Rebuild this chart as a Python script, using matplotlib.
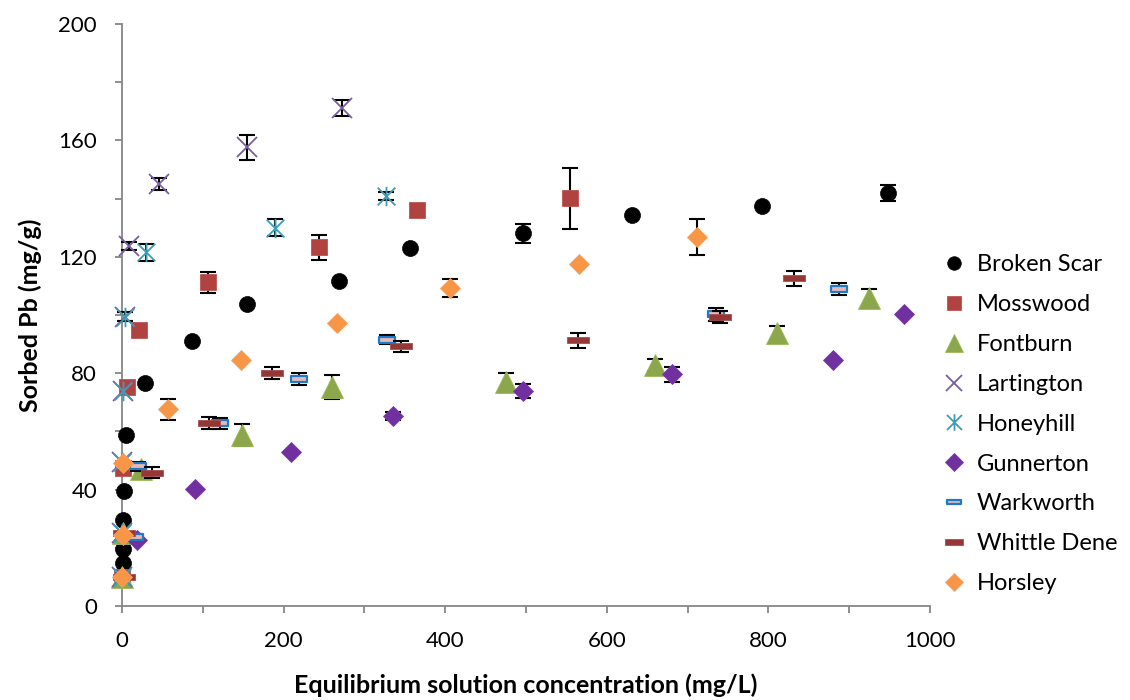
import numpy as np
import matplotlib
matplotlib.use("Agg")
import matplotlib.pyplot as plt
from matplotlib.path import Path
from matplotlib.ticker import MultipleLocator

plt.rcParams['font.family'] = ['Lato', 'DejaVu Sans']

# ---- data (x: mg/L, y: mg/g, e: half error bar) ----
broken_x = [1, 1, 1.5, 2, 5.5, 28.5, 87, 154.5, 268.5, 356.5, 496.5, 631.5, 791.5, 948.5]
broken_y = [14.7, 19.8, 29.5, 39.4, 58.9, 76.5, 91, 103.8, 111.7, 122.9, 128, 134.4, 137.5, 142]
broken_e = [0, 0, 0, 0, 0, 0, 0, 0, 0, 0, 3.4, 0, 0, 2.8]

moss_x = [0.5, 1, 6.6, 20.5, 107, 243.3, 364.7, 554.3]
moss_y = [10, 47.3, 75.2, 94.8, 111.2, 123.3, 136.1, 140.1]
moss_e = [0, 0, 0, 0, 3.6, 4.3, 0, 10.5]

font_x = [0.5, 1, 24, 148.3, 259.8, 475, 659.6, 810.4, 924.8]
font_y = [10, 25, 47, 58.8, 75.4, 77.1, 82.8, 93.7, 105.7]
font_e = [0, 0, 0, 3.7, 4.1, 2.9, 2, 2.5, 3.1]

lart_x = [0.5, 0.5, 0.5, 1.2, 3.3, 8.3, 46.3, 154.5, 272.2]
lart_y = [10, 25, 49.6, 74, 99.4, 123.8, 144.9, 157.6, 171.2]
lart_e = [0, 0, 0, 0, 1.5, 1.4, 2.1, 4.3, 2.8]

honey_x = [0.5, 0.5, 0.5, 1.2, 3.3, 29.7, 188.7, 327]
honey_y = [10, 25, 49.6, 74, 99.4, 121.5, 130, 141]
honey_e = [0, 0, 0, 0, 1.5, 2.9, 2.9, 1.4]

gunn_x = [18.6, 90.5, 209.4, 335.4, 496, 681, 880.2, 967.8]
gunn_y = [22.9, 40.2, 52.8, 65.3, 73.9, 79.6, 84.6, 100.2]
gunn_e = [0, 0, 0, 1.5, 2.5, 2.7, 0, 0]

wark_x = [15.7, 19.8, 121.4, 218.5, 328, 734.8, 887]
wark_y = [23.8, 48.1, 62.8, 78, 91.5, 100.2, 108.9]
wark_e = [0, 1.5, 2, 2, 1.5, 2.1, 2.0]

whit_x = [2, 2, 36.8, 108.2, 186.2, 345.3, 563.8, 739.8, 831.9]
whit_y = [10, 25, 45.9, 63, 80, 89.2, 91.3, 99.3, 112.6]
whit_e = [0, 0, 2, 2.1, 2.1, 2, 2.6, 2, 2.5]

hors_x = [0.5, 1.5, 1, 57.4, 147, 266.4, 406.4, 565, 711.3]
hors_y = [10, 24.4, 49.2, 67.6, 84.6, 97.2, 109.2, 117.5, 126.7]
hors_e = [0, 0, 0, 3.7, 0, 0, 3.1, 0, 6.2]

names = ['Broken Scar', 'Mosswood', 'Fontburn', 'Lartington', 'Honeyhill',
         'Gunnerton', 'Warkworth', 'Whittle Dene', 'Horsley']

# ---- custom markers ----
asterisk = Path([(-1, -1), (1, 1), (-1, 1), (1, -1), (0, -1.1), (0, 1.1)],
                [Path.MOVETO, Path.LINETO, Path.MOVETO, Path.LINETO, Path.MOVETO, Path.LINETO])
dash = Path([(-1, -0.36), (1, -0.36), (1, 0.36), (-1, 0.36), (-1, -0.36)], closed=True)
long_dash = Path([(-1, -0.28), (1, -0.28), (1, 0.28), (-1, 0.28), (-1, -0.28)], closed=True)

styles = [
    dict(marker='o', ms=11.5, mfc='black', mec='black', mew=0.5),
    dict(marker='s', ms=11.5, mfc='#B0433F', mec='#BA5450', mew=0.6),
    dict(marker='^', ms=16, mfc='#8BA64B', mec='#9BBB59', mew=0.6),
    dict(marker='x', ms=14, mfc='none', mec='#7A5FA0', mew=1.3),
    dict(marker=asterisk, ms=14, mfc='none', mec='#3C9DB8', mew=1.3),
    dict(marker='D', ms=10.5, mfc='#7030A0', mec='#7A3AAA', mew=0.6),
    dict(marker=dash, ms=11.5, mfc='#E6B9B8', mec='#1E7AC8', mew=1.6),
    dict(marker=long_dash, ms=16, mfc='#953735', mec='#A5504E', mew=0.6),
    dict(marker='D', ms=10.5, mfc='#F79646', mec='#F9A060', mew=0.6),
]

series = [
    (broken_x, broken_y, broken_e), (moss_x, moss_y, moss_e), (font_x, font_y, font_e),
    (lart_x, lart_y, lart_e), (honey_x, honey_y, honey_e), (gunn_x, gunn_y, gunn_e),
    (wark_x, wark_y, wark_e), (whit_x, whit_y, whit_e), (hors_x, hors_y, hors_e),
]

fig = plt.figure(figsize=(11.3, 7), dpi=100)
ax = fig.add_axes([0.108, 0.134, 0.715, 0.832])

for i, ((xs, ys, es), name, st) in enumerate(zip(series, names, styles)):
    xs, ys, es = np.array(xs), np.array(ys), np.array(es)
    m = es > 0
    if m.any():
        eb = ax.errorbar(xs[m], ys[m], yerr=es[m], fmt='none', ecolor='black',
                         elinewidth=1.5, capsize=6, capthick=1.5, zorder=3 + 2 * i)
        for art in eb.lines[1] + eb.lines[2]:
            art.set_clip_on(False)
    ax.plot(xs, ys, linestyle='none', label=name, zorder=4 + 2 * i,
            clip_on=False, **st)

ax.set_xlim(0, 1000)
ax.set_ylim(0, 200)
ax.xaxis.set_major_locator(MultipleLocator(200))
ax.xaxis.set_minor_locator(MultipleLocator(100))
ax.yaxis.set_major_locator(MultipleLocator(40))
ax.yaxis.set_minor_locator(MultipleLocator(20))

for side in ['top', 'right']:
    ax.spines[side].set_visible(False)
for side in ['left', 'bottom']:
    ax.spines[side].set_color('#868686')
    ax.spines[side].set_linewidth(1.3)
    ax.spines[side].set_zorder(1)
ax.tick_params(which='both', direction='out', length=5, width=1.3, color='#868686')
ax.tick_params(axis='y', which='major', labelsize=16, pad=13)
ax.tick_params(axis='x', which='major', labelsize=16, pad=13)

ax.set_xlabel('Equilibrium solution concentration (mg/L)', fontsize=18,
              fontweight='bold', labelpad=16)
ax.set_ylabel('Sorbed Pb (mg/g)', fontsize=18, fontweight='bold', labelpad=12)

fig.legend(loc='upper left', bbox_to_anchor=(0.835, 0.637), frameon=False,
           fontsize=17, handlelength=0.9, handletextpad=0.5, labelspacing=0.8,
           borderpad=0, borderaxespad=0, markerscale=0.85)

fig.savefig('out.png', dpi=100)
